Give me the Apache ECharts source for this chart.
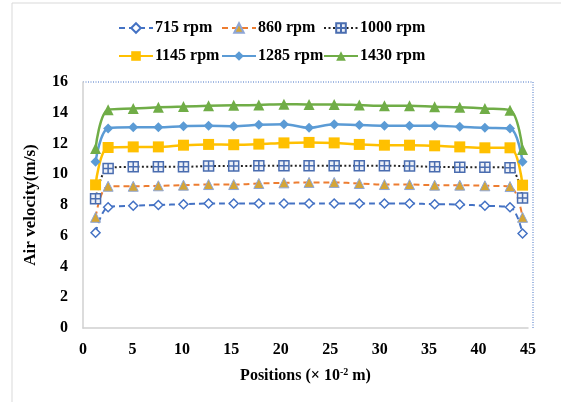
<!DOCTYPE html>
<html>
<head>
<meta charset="utf-8">
<script src="https://cdn.jsdelivr.net/npm/echarts@6/dist/echarts.min.js"></script>
<style>
  html, body { margin: 0; padding: 0; background: #fff; }
  #chart { width: 561px; height: 402px; }
</style>
</head>
<body>
<div id="chart"></div>
<script>
// positions along the duct, in cm (1 inch steps)
const positions = [1.27, 2.54, 5.08, 7.62, 10.16, 12.7, 15.24, 17.78, 20.32, 22.86, 25.4, 27.94, 30.48, 33.02, 35.56, 38.1, 40.64, 43.18, 44.45]

const rpm715 = [6.2, 7.85, 7.95, 8.0, 8.05, 8.1, 8.1, 8.1, 8.1, 8.1, 8.1, 8.1, 8.1, 8.1, 8.05, 8.03, 7.95, 7.85, 6.15]
const rpm860 = [7.2, 9.22, 9.22, 9.25, 9.29, 9.33, 9.33, 9.4, 9.44, 9.47, 9.47, 9.4, 9.33, 9.33, 9.29, 9.29, 9.25, 9.2, 7.2]
const rpm1000 = [8.4, 10.38, 10.48, 10.48, 10.48, 10.53, 10.53, 10.55, 10.55, 10.55, 10.55, 10.55, 10.55, 10.53, 10.48, 10.46, 10.46, 10.42, 8.45]
const rpm1145 = [9.31, 11.74, 11.78, 11.78, 11.89, 11.94, 11.92, 11.96, 12.04, 12.07, 12.04, 11.94, 11.89, 11.89, 11.85, 11.78, 11.72, 11.72, 9.29]
const rpm1285 = [10.81, 12.98, 13.05, 13.05, 13.13, 13.15, 13.13, 13.22, 13.26, 13.02, 13.26, 13.2, 13.15, 13.15, 13.15, 13.09, 13.02, 12.98, 10.81]
const rpm1430 = [11.68, 14.2, 14.28, 14.35, 14.4, 14.45, 14.48, 14.5, 14.56, 14.54, 14.54, 14.5, 14.45, 14.45, 14.39, 14.35, 14.28, 14.17, 11.61]

const names = ['715 rpm', '860 rpm', '1000 rpm', '1145 rpm', '1285 rpm', '1430 rpm']

const font = 'Liberation Serif'

const pairs = (ys) => positions.map((x, i) => [x, ys[i]])

const line = (name, ys, opts) => Object.assign({
  name: name,
  type: 'line',
  smooth: 0.35,
  data: pairs(ys)
}, opts)

const series = [
  line(names[0], rpm715, {
    symbol: 'diamond', symbolSize: 9,
    lineStyle: { color: '#4472C4', width: 2, type: [6, 4] },
    itemStyle: { color: '#fff', borderColor: '#4472C4', borderWidth: 1.5 }
  }),
  line(names[1], rpm860, {
    symbol: 'triangle', symbolSize: 10,
    lineStyle: { color: '#ED7D31', width: 2, type: [6, 4] },
    itemStyle: { color: '#D4A537', borderColor: '#8EA6D6', borderWidth: 1 }
  }),
  line(names[2], rpm1000, {
    symbol: 'path://M0 0L10 0L10 10L0 10Z M5 0L5 10 M0 5L10 5', symbolSize: 10,
    lineStyle: { color: '#222', width: 2, type: [2, 2.5] },
    itemStyle: { color: '#eef1f7', borderColor: '#4A6DB0', borderWidth: 1.5 }
  }),
  line(names[3], rpm1145, {
    symbol: 'rect', symbolSize: 11,
    lineStyle: { color: '#FFC000', width: 2.5 },
    itemStyle: { color: '#FFC000' }
  }),
  line(names[4], rpm1285, {
    symbol: 'diamond', symbolSize: 10,
    lineStyle: { color: '#5B9BD5', width: 2.5 },
    itemStyle: { color: '#5B9BD5' }
  }),
  line(names[5], rpm1430, {
    symbol: 'triangle', symbolSize: 11,
    lineStyle: { color: '#70AD47', width: 2.5 },
    itemStyle: { color: '#70AD47' }
  })
]

// excel-like legend: 3 columns x 2 rows
const legendLeft = [113, 216, 318]
const legendTop = [15, 43]
const legends = names.map((n, i) => ({
  data: [n],
  left: legendLeft[i % 3],
  top: legendTop[Math.floor(i / 3)],
  itemWidth: 34,
  itemHeight: 12,
  itemGap: 3,
  textStyle: { fontFamily: font, fontWeight: 'bold', fontSize: 16, color: '#000', padding: [0, 0, 0, -3] }
}))

const option = {
  animation: false,
  legend: legends,
  grid: { left: 83, right: 33, top: 82, bottom: 74 },
  xAxis: {
    type: 'value',
    min: 0, max: 45, interval: 5,
    name: 'Positions (× 10{sup|-2} m)',
    nameLocation: 'middle',
    nameGap: 39,
    nameTextStyle: {
      fontFamily: font, fontWeight: 'bold', fontSize: 16, color: '#000',
      rich: { sup: { fontFamily: font, fontWeight: 'bold', fontSize: 10, color: '#000', verticalAlign: 'top', padding: [0, 0, 8, 0] } }
    },
    axisLine: { lineStyle: { color: '#d0d0d0', width: 1.5 } },
    axisTick: { show: false },
    splitLine: { show: false },
    axisLabel: { fontFamily: font, fontWeight: 'bold', fontSize: 16, color: '#000', margin: 14 }
  },
  yAxis: {
    type: 'value',
    min: 0, max: 16, interval: 2,
    name: 'Air velocity(m/s)',
    nameLocation: 'middle',
    nameGap: 44,
    nameTextStyle: { fontFamily: font, fontWeight: 'bold', fontSize: 17, color: '#000' },
    axisLine: { show: true, lineStyle: { color: '#d0d0d0', width: 1.5 } },
    axisTick: { show: false },
    splitLine: { show: false },
    axisLabel: { fontFamily: font, fontWeight: 'bold', fontSize: 16, color: '#000', margin: 15 }
  },
  graphic: [
    {
      type: 'rect', silent: true, z: -10,
      shape: { x: 12, y: 3, width: 620, height: 460 },
      style: { fill: 'none', stroke: '#d9d9d9', lineWidth: 1 }
    },
    {
      type: 'polyline', silent: true,
      shape: { points: [[83, 82], [533, 82], [533, 328]] },
      style: { fill: 'none', stroke: '#4472C4', lineWidth: 1, lineDash: [1, 1.5] }
    }
  ],
  series: series
}

const chart = echarts.init(document.getElementById('chart'))
chart.setOption(option)
</script>
</body>
</html>
